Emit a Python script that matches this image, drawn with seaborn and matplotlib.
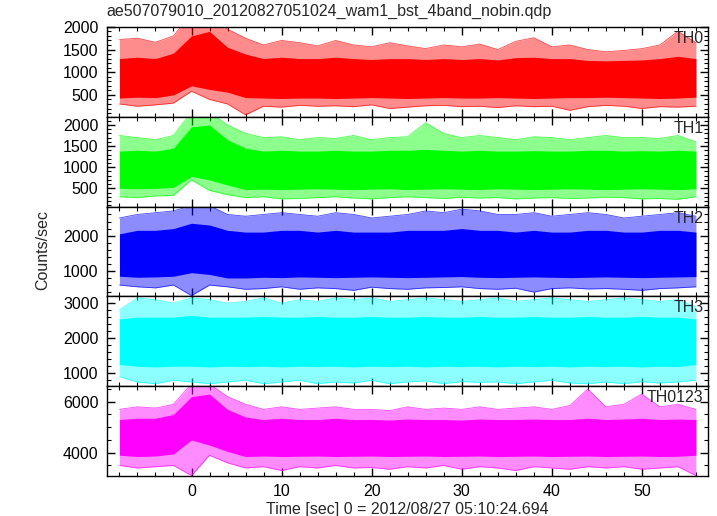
import numpy as np
import pandas as pd
import seaborn as sns
import matplotlib.pyplot as plt
from matplotlib.ticker import MultipleLocator

# time grid (sec), envelopes every 2 s
time = [-8, -6, -4, -2, 0, 2, 4, 6, 8, 10, 12, 14, 16, 18, 20, 22, 24,
        26, 28, 30, 32, 34, 36, 38, 40, 42, 44, 46, 48, 50, 52, 54, 56]

th0_hi = [1720, 1750, 1660, 1800, 2300, 2300, 1950, 1750, 1600, 1700, 1650, 1580, 1700, 1600, 1560, 1650, 1580,
          1520, 1600, 1560, 1620, 1500, 1680, 1760, 1560, 1600, 1500, 1450, 1480, 1520, 1600, 1900, 1650]
th0_core_hi = [1300, 1330, 1300, 1420, 1800, 1900, 1550, 1400, 1300, 1330, 1300, 1300, 1330, 1300, 1280, 1300, 1300,
               1280, 1300, 1280, 1300, 1270, 1320, 1330, 1300, 1300, 1260, 1250, 1260, 1270, 1300, 1350, 1300]
th0_core_lo = [430, 450, 440, 500, 700, 620, 560, 440, 430, 420, 430, 430, 420, 430, 440, 430, 420,
               430, 440, 430, 430, 440, 430, 420, 430, 440, 440, 450, 440, 430, 420, 430, 450]
th0_lo = [300, 250, 280, 320, 580, 400, 300, 60, 250, 230, 270, 250, 260, 240, 280, 200, 230,
          260, 270, 240, 250, 220, 260, 240, 250, 160, 240, 270, 250, 200, 240, 230, 250]

th1_hi = [1750, 1700, 1650, 1750, 2300, 2300, 2000, 1800, 1700, 1720, 1650, 1700, 1680, 1750, 1650, 1700, 1720,
          2050, 1800, 1700, 1750, 1700, 1650, 1720, 1700, 1650, 1700, 1750, 1700, 1700, 1680, 1750, 1600]
th1_core_hi = [1380, 1400, 1380, 1450, 1950, 2000, 1650, 1450, 1380, 1400, 1380, 1380, 1400, 1380, 1380, 1400, 1400,
               1420, 1400, 1380, 1400, 1380, 1380, 1390, 1380, 1380, 1400, 1400, 1380, 1390, 1380, 1400, 1380]
th1_core_lo = [500, 490, 500, 520, 780, 700, 580, 470, 480, 470, 480, 490, 480, 470, 480, 490, 470,
               480, 490, 480, 470, 490, 480, 470, 480, 490, 480, 470, 480, 490, 480, 470, 490]
th1_lo = [300, 280, 320, 330, 700, 450, 350, 280, 300, 250, 260, 280, 300, 270, 250, 280, 300,
          280, 260, 290, 270, 280, 250, 270, 280, 260, 270, 290, 280, 250, 260, 240, 300]

th2_hi = [2500, 2600, 2650, 2700, 2850, 2850, 2600, 2550, 2600, 2650, 2600, 2550, 2650, 2600, 2500, 2550, 2600,
          2700, 2650, 2750, 2700, 2600, 2600, 2650, 2550, 2600, 2650, 2600, 2500, 2550, 2600, 2650, 2550]
th2_core_hi = [2050, 2150, 2150, 2200, 2350, 2300, 2150, 2100, 2100, 2150, 2150, 2100, 2150, 2100, 2100, 2100, 2150,
               2150, 2150, 2200, 2150, 2150, 2100, 2150, 2100, 2100, 2150, 2150, 2100, 2100, 2150, 2150, 2100]
th2_core_lo = [850, 820, 830, 850, 950, 900, 800, 800, 820, 810, 830, 820, 810, 820, 830, 820, 810,
               820, 830, 840, 820, 810, 820, 830, 820, 810, 820, 830, 820, 810, 820, 830, 840]
th2_lo = [600, 550, 520, 600, 300, 600, 550, 480, 500, 550, 480, 520, 500, 450, 540, 500, 480,
          520, 530, 550, 500, 480, 510, 400, 500, 520, 490, 500, 480, 450, 500, 520, 550]

th3_hi = [2800, 3150, 3100, 3000, 3150, 3100, 3000, 3050, 3150, 3000, 3100, 3050, 3150, 3100, 3150, 3050, 3100,
          3150, 3100, 3050, 3100, 3150, 3050, 3100, 3150, 3100, 3050, 3100, 3150, 3100, 3050, 3100, 2900]
th3_core_hi = [2550, 2600, 2600, 2600, 2650, 2600, 2600, 2600, 2620, 2600, 2600, 2620, 2600, 2600, 2620, 2600, 2600,
               2620, 2600, 2600, 2620, 2600, 2600, 2620, 2600, 2600, 2620, 2600, 2600, 2620, 2600, 2600, 2550]
th3_core_lo = [1250, 1200, 1180, 1200, 1200, 1180, 1200, 1190, 1200, 1180, 1200, 1190, 1200, 1180, 1200, 1190, 1200,
               1180, 1200, 1190, 1200, 1180, 1200, 1190, 1200, 1180, 1200, 1190, 1200, 1180, 1200, 1190, 1250]
th3_lo = [900, 750, 700, 800, 750, 700, 750, 800, 700, 750, 800, 700, 750, 720, 800, 700, 750,
          780, 700, 760, 740, 750, 700, 750, 800, 720, 700, 750, 700, 760, 720, 750, 800]

th0123_hi = [5700, 5800, 5750, 5900, 6700, 6700, 6200, 5900, 5700, 5800, 5700, 5750, 5800, 5700, 5700, 5650, 5800,
             5700, 5750, 5700, 5800, 5700, 5750, 5800, 5700, 5850, 6500, 5800, 5900, 6300, 5800, 5900, 5700]
th0123_core_hi = [5300, 5350, 5350, 5500, 6200, 6300, 5700, 5400, 5300, 5350, 5300, 5300, 5350, 5300, 5300, 5280, 5320,
                  5300, 5300, 5280, 5320, 5300, 5300, 5320, 5300, 5300, 5350, 5300, 5320, 5350, 5300, 5320, 5300]
th0123_core_lo = [3900, 3850, 3870, 3950, 4500, 4300, 4050, 3850, 3870, 3850, 3860, 3870, 3850, 3860, 3870, 3850, 3860,
                  3870, 3850, 3860, 3870, 3850, 3860, 3870, 3850, 3860, 3870, 3850, 3860, 3870, 3850, 3860, 3900]
th0123_lo = [3500, 3400, 3450, 3500, 3100, 3900, 3600, 3400, 3450, 3300, 3450, 3400, 3500, 3400, 3420, 3350, 3450,
             3400, 3500, 3350, 3450, 3400, 3300, 3450, 3400, 3350, 3450, 3400, 3450, 3350, 3400, 3450, 3100]

bands = ["TH0", "TH1", "TH2", "TH3", "TH0123"]
colors = ["#ff0000", "#00ff00", "#0000ff", "#00ffff", "#ff00ff"]
his = [th0_hi, th1_hi, th2_hi, th3_hi, th0123_hi]
core_his = [th0_core_hi, th1_core_hi, th2_core_hi, th3_core_hi, th0123_core_hi]
core_los = [th0_core_lo, th1_core_lo, th2_core_lo, th3_core_lo, th0123_core_lo]
los = [th0_lo, th1_lo, th2_lo, th3_lo, th0123_lo]
ylims = [(20, 2000), (70, 2195), (280, 2825), (630, 3195), (3085, 6610)]
majors = [500, 500, 1000, 1000, 2000]
minors = [100, 100, 200, 200, 500]

sns.set_theme(style="ticks")
plt.rcParams["font.family"] = ["Liberation Sans", "DejaVu Sans"]

fig, axes = plt.subplots(5, 1, figsize=(7.17, 5.16), dpi=100, sharex=True)
fig.subplots_adjust(left=0.149, right=0.987, top=0.948, bottom=0.0775, hspace=0)

for i, ax in enumerate(axes):
    df = pd.DataFrame({"time": time, "hi": his[i], "core_hi": core_his[i],
                       "core_lo": core_los[i], "lo": los[i]})
    ax.fill_between(df["time"], df["lo"], df["hi"], color=colors[i], alpha=0.45, lw=0)
    ax.fill_between(df["time"], df["core_lo"], df["core_hi"], color=colors[i], lw=0)
    sns.lineplot(data=df, x="time", y="hi", color=colors[i], lw=0.6, alpha=0.7, ax=ax)
    sns.lineplot(data=df, x="time", y="lo", color=colors[i], lw=0.6, alpha=0.7, ax=ax)
    ax.set_ylim(*ylims[i])
    ax.set_xlim(-9.4, 57.3)
    ax.set_ylabel("")
    ax.set_xlabel("")
    ax.yaxis.set_major_locator(MultipleLocator(majors[i]))
    ax.yaxis.set_minor_locator(MultipleLocator(minors[i]))
    ax.xaxis.set_major_locator(MultipleLocator(10))
    ax.xaxis.set_minor_locator(MultipleLocator(2))
    ax.tick_params(which="both", direction="in", top=True, right=True, colors="black",
                   labelsize=11.5, pad=6)
    ax.tick_params(which="major", length=6, width=1)
    ax.tick_params(which="minor", length=3, width=0.8)
    for sp in ax.spines.values():
        sp.set_visible(True)
        sp.set_color("black")
        sp.set_linewidth(1.0)
    ax.text(0.993, 0.955, bands[i], transform=ax.transAxes, ha="right", va="top", fontsize=11.5)

axes[-1].set_xlabel("Time [sec] 0 = 2012/08/27 05:10:24.694", fontsize=11.5, labelpad=2)
fig.text(0.059, 0.515, "Counts/sec", rotation=90, ha="center", va="center", fontsize=11.5)
fig.text(0.149, 0.977, "ae507079010_20120827051024_wam1_bst_4band_nobin.qdp",
         ha="left", va="center", fontsize=11.5)

fig.savefig("out.png", dpi=100)
